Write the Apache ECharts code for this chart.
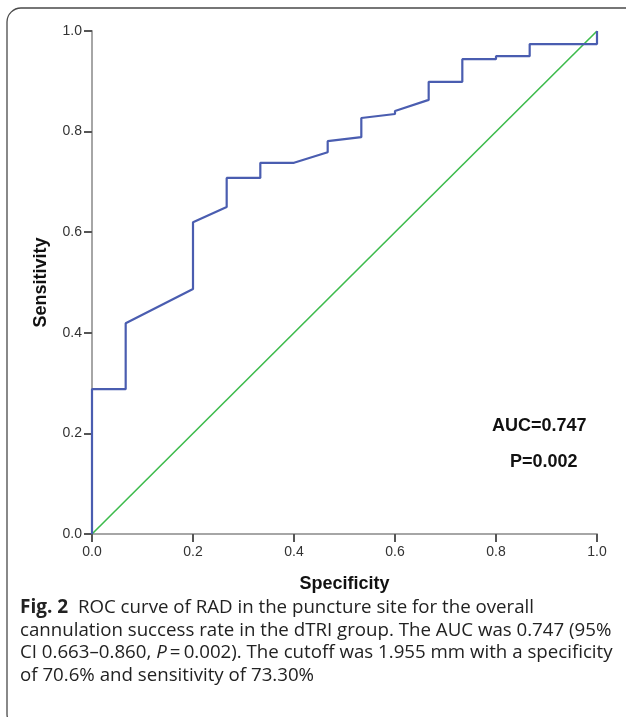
<!DOCTYPE html>
<html>
<head>
<meta charset="utf-8">
<script src="https://cdn.jsdelivr.net/npm/echarts@6/dist/echarts.min.js"></script>
<style>
  html, body { margin: 0; padding: 0; background: #fff; }
  #chart { width: 626px; height: 717px; }
</style>
</head>
<body>
<div id="chart"></div>
<script>
// ROC curve (x = 1 - specificity axis labelled "Specificity")
const rocX = [0, 0, 0.0667, 0.0667, 0.2, 0.2, 0.2667, 0.2667, 0.3333, 0.3333, 0.4, 0.4667, 0.4667,
  0.5333, 0.5333, 0.6, 0.6, 0.6667, 0.6667, 0.7333, 0.7333, 0.8, 0.8, 0.8667, 0.8667, 1, 1];
const rocY = [0, 0.288, 0.288, 0.419, 0.487, 0.620, 0.650, 0.708, 0.708, 0.738, 0.738, 0.759, 0.781,
  0.789, 0.827, 0.835, 0.841, 0.863, 0.899, 0.899, 0.944, 0.944, 0.950, 0.950, 0.974, 0.974, 1];
const refX = [0, 1];
const refY = [0, 1];

const statsLines = ["AUC=0.747", "P=0.002"];
const captionLines = [
  "ROC curve of RAD in the puncture site for the overall",
  "cannulation success rate in the dTRI group. The AUC was 0.747 (95%",
  "CI 0.663\u20130.860, ",
  "of 70.6% and sensitivity of 73.30%"
];

const chart = echarts.init(document.getElementById("chart"), null, { renderer: "canvas" });

const tickFont = { color: "#333", fontSize: 14, fontFamily: "Liberation Sans, Arial, sans-serif" };
const nameFont = { color: "#111", fontSize: 18, fontWeight: "bold", fontFamily: "Liberation Sans, Arial, sans-serif" };
const capFont = "Open Sans, sans-serif";
const capSize = 18.7;

chart.setOption({
  animation: false,
  backgroundColor: "#fff",
  grid: { left: 92, right: 29, top: 31, bottom: 183, containLabel: false },
  xAxis: {
    type: "value",
    min: 0, max: 1, interval: 0.2,
    name: "Specificity",
    nameLocation: "middle",
    nameGap: 41,
    nameTextStyle: nameFont,
    axisLine: { lineStyle: { color: "#a6a6a6", width: 2 } },
    axisTick: { show: true, length: 8, lineStyle: { color: "#555", width: 2 } },
    axisLabel: Object.assign({ margin: 11, formatter: v => v.toFixed(1) }, tickFont),
    splitLine: { show: false }
  },
  yAxis: {
    type: "value",
    min: 0, max: 1, interval: 0.2,
    name: "Sensitivity",
    nameLocation: "middle",
    nameGap: 42,
    nameTextStyle: nameFont,
    axisLine: { show: true, lineStyle: { color: "#a6a6a6", width: 2 } },
    axisTick: { show: true, length: 8, lineStyle: { color: "#555", width: 2 } },
    axisLabel: Object.assign({ margin: 10, formatter: v => v.toFixed(1) }, tickFont),
    splitLine: { show: false }
  },
  series: [
    {
      type: "line",
      data: refX.map((x, i) => [x, refY[i]]),
      symbol: "none",
      lineStyle: { color: "#3dbb4c", width: 1.6 },
      z: 2
    },
    {
      type: "line",
      data: rocX.map((x, i) => [x, rocY[i]]),
      symbol: "none",
      lineStyle: { color: "#4a5db0", width: 2.2 },
      z: 3
    }
  ],
  graphic: [
    {
      type: "rect",
      shape: { x: 7, y: 8, width: 650, height: 720, r: 14 },
      style: { fill: null, stroke: "#4a4a4a", lineWidth: 1.3 },
      silent: true
    },
    {
      type: "text", left: 492, top: 417,
      style: { text: statsLines[0], fill: "#111", font: "bold 18px Liberation Sans, Arial, sans-serif" }
    },
    {
      type: "text", left: 510, top: 453,
      style: { text: statsLines[1], fill: "#111", font: "bold 18px Liberation Sans, Arial, sans-serif" }
    },
    {
      type: "text", x: 20, y: 608,
      style: {
        text: "{b|Fig. 2}  " + captionLines[0],
        fill: "#222", font: capSize + "px " + capFont, verticalAlign: "middle",
        rich: { b: { fontWeight: "bold", fontSize: 19, fontFamily: capFont, fill: "#222" } }
      }
    },
    {
      type: "text", x: 20, y: 630.5,
      style: { text: captionLines[1], fill: "#222", font: capSize + "px " + capFont, verticalAlign: "middle" }
    },
    {
      type: "text", x: 20, y: 653,
      style: {
        text: captionLines[2] + "{i|P}\u2009=\u20090.002). The cutoff was 1.955 mm with a specificity",
        fill: "#222", font: capSize + "px " + capFont, verticalAlign: "middle",
        rich: { i: { fontStyle: "italic", fontSize: capSize, fontFamily: capFont, fill: "#222" } }
      }
    },
    {
      type: "text", x: 20, y: 675.5,
      style: { text: captionLines[3], fill: "#222", font: capSize + "px " + capFont, verticalAlign: "middle" }
    }
  ]
});
</script>
</body>
</html>
